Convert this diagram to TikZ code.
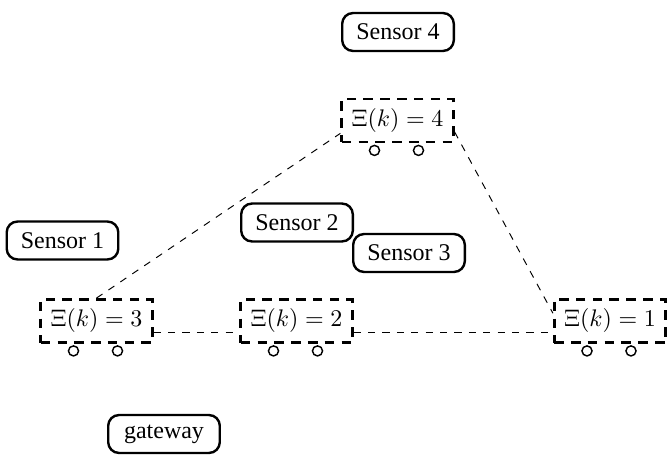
\documentclass[tikz,border=0pt]{standalone}
\usepackage{fontspec}
\setmainfont{Liberation Serif}
\usetikzlibrary{calc}
\begin{document}
\begin{tikzpicture}[x=0.41667pt,y=-0.41667pt,
  sensor/.style={draw,line width=1pt,rounded corners=4.5pt,minimum width=46.5pt,minimum height=15.8pt,inner sep=2pt,fill=white},
  car/.style={draw,line width=1.1pt,dash pattern=on 4pt off 3pt,inner sep=3.33pt,minimum width=46.5pt,minimum height=18pt},
  wheel/.style={draw,circle,line width=0.6pt,minimum size=4.2pt,inner sep=0pt,fill=white},
  link/.style={draw,dashed,thin}]
\useasboundingbox (0,0) rectangle (670,458);
% sensors
\node[sensor] (s4) at (398,32) {Sensor 4};
\node[sensor] (s1) at (62.5,240.5) {Sensor 1};
\node[sensor] (s2) at (297,222.5) {Sensor 2};
\node[sensor] (s3) at (409,253) {Sensor 3};
\node[sensor] (gw) at (164,434) {gateway};
% cars
\node[car] (x4) at (397.5,120.5) {$\Xi(k)=4$};
\node[car] (x3) at (96.5,321) {$\Xi(k)=3$};
\node[car] (x2) at (296.5,321) {$\Xi(k)=2$};
\node[car] (x1) at (610,321) {$\Xi(k)=1$};
% wheels
\foreach \c in {x4,x3,x2,x1}{
  \node[wheel] (\c a) at ($(\c.south)+(-23,7)$) {};
  \node[wheel] (\c b) at ($(\c.south)+(21,7)$) {};
}
% links
\draw[link] (x3.north) -- ($(x4.south west)!0.22!(x4.north west)$);
\draw[link] ($(x4.south east)!0.25!(x4.north east)$) -- ($(x1.south west)!0.67!(x1.north west)$);
\draw[link] ($(x3.south east)!0.25!(x3.north east)$) -- ($(x2.south west)!0.25!(x2.north west)$);
\draw[link] ($(x2.south east)!0.25!(x2.north east)$) -- ($(x1.south west)!0.25!(x1.north west)$);
\end{tikzpicture}
\end{document}
